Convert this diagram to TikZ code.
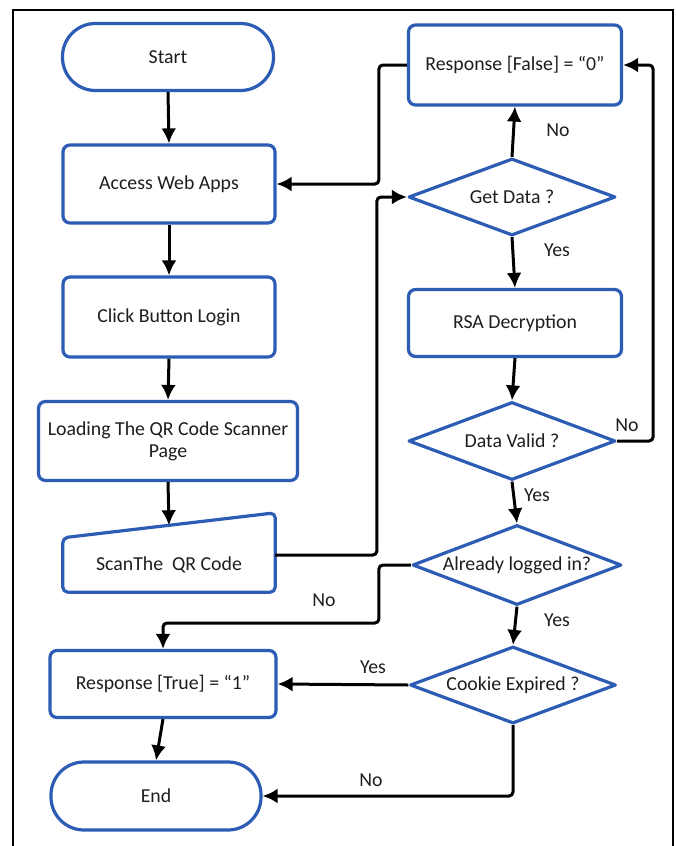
\documentclass[tikz,border=0pt]{standalone}
\usepackage{fontspec}
\setmainfont{Carlito}
\usetikzlibrary{shapes.geometric,arrows.meta,calc}
\definecolor{fcblue}{RGB}{44,92,180}
\definecolor{txt}{RGB}{30,30,30}
\begin{document}
\begin{tikzpicture}[x=1pt,y=1pt,
  every node/.style={font=\fontsize{19.8}{22}\selectfont, text=txt},
  box/.style={draw=fcblue, line width=3.2pt, rounded corners=7pt, align=center, inner sep=2pt},
  term/.style={draw=fcblue, line width=3.2pt, rounded corners=33pt, inner sep=2pt},
  dec/.style={diamond, draw=fcblue, line width=3.2pt, inner sep=0pt, aspect=2.7, line join=round},
  arr/.style={draw=black, line width=3pt, -{Latex[length=15pt,width=15pt]}},
  lbl/.style={inner sep=0pt}]
\useasboundingbox (0,0) rectangle (676,-846);
\fill[white] (0,0) rectangle (676,-846);
\draw[line width=1.6pt] (13,-846) -- (13,-10) -- (673,-10) -- (673,-846);

% left column
\node[term, minimum width=211pt, minimum height=67pt] (start) at (168,-57) {Start};
\node[box, minimum width=212pt, minimum height=78pt] (access) at (169,-184) {Access Web Apps};
\node[box, minimum width=212pt, minimum height=80pt] (click) at (169,-317) {Click Button Login};
\node[box, minimum width=259pt, minimum height=79pt] (load) at (168,-441) {Loading The QR Code Scanner\\Page};
\node[lbl, minimum width=212pt, minimum height=54pt] (scan) at (169,-565) {ScanThe~~QR Code};
\draw[fcblue, line width=3.2pt, rounded corners=5pt, line join=round]
  (scan.south west) -- (scan.south east) -- ([yshift=25pt]scan.north east) -- (scan.north west) -- cycle;
\node[box, minimum width=226pt, minimum height=67pt] (rt) at (163,-684) {Response [True] = “1”};
\node[term, minimum width=210pt, minimum height=68pt] (endn) at (156,-796) {End};

% right column
\node[box, minimum width=213pt, minimum height=80pt] (rf) at (515,-65) {Response [False] = “0”};
\node[dec, minimum width=207pt, minimum height=77pt] (gd) at (512,-197) {Get Data ?};
\node[box, minimum width=213pt, minimum height=67pt] (rsa) at (515,-323) {RSA Decryption};
\node[dec, minimum width=207pt, minimum height=78pt] (dv) at (512,-441) {Data Valid ?};
\node[dec, minimum width=209pt, minimum height=80pt] (al) at (517,-565) {Already logged in?};
\node[dec, minimum width=206pt, minimum height=77pt] (ce) at (513,-685) {Cookie Expired ?};

% connectors
\draw[arr] (start.south) -- (access.north);
\draw[arr] (access.south) -- (click.north);
\draw[arr] (click.south) -- (load.north);
\draw[arr] (load.south) -- ([yshift=12.5pt]scan.north);
\draw[arr, rounded corners=4pt] ([yshift=10pt]scan.east) -| ($(gd.west)+(-30,0)$) -- (gd.west);
\draw[arr, rounded corners=4pt] (rf.west) -- ++(-28,0) |- (access.east);
\draw[arr] (gd.north) -- (rf.south);
\draw[arr] (gd.south) -- (rsa.north);
\draw[arr] (rsa.south) -- (dv.north);
\draw[arr, rounded corners=4pt] (dv.east) -- ++(36,0) |- (rf.east);
\draw[arr] (dv.south) -- (al.north);
\draw[arr, rounded corners=4pt] (al.west) -- ++(-32,0) -- ++(0,-58) -| (rt.north);
\draw[arr] (al.south) -- (ce.north);
\draw[arr] (ce.west) -- (rt.east);
\draw[arr] (rt.south) -- (endn.north);
\draw[arr, rounded corners=4pt] (ce.south) |- (endn.east);

% labels
\node[lbl] (l1) at (558,-130) {No};
\node[lbl] (l2) at (557,-250) {Yes};
\node[lbl] (l3) at (627,-425) {No};
\node[lbl] (l4) at (537,-495) {Yes};
\node[lbl] (l5) at (324,-600) {No};
\node[lbl] (l6) at (557,-620) {Yes};
\node[lbl] (l7) at (373,-667) {Yes};
\node[lbl] (l8) at (371,-780) {No};
\end{tikzpicture}
\end{document}
